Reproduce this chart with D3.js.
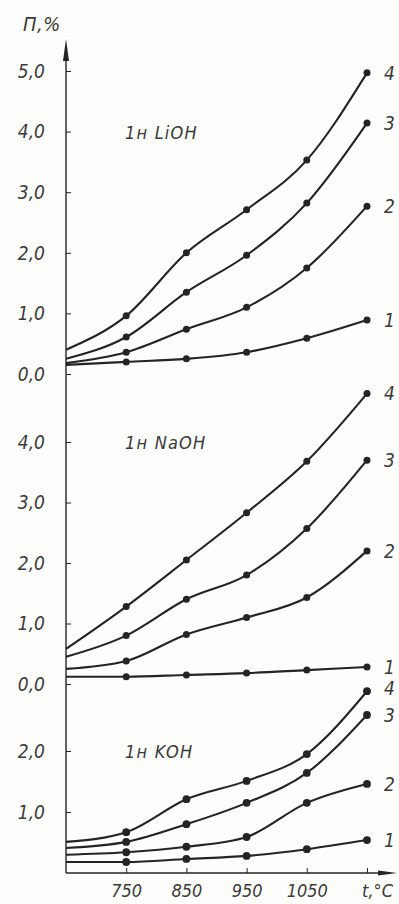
<!DOCTYPE html>
<html>
<head>
<meta charset="utf-8">
<script src="https://cdn.jsdelivr.net/npm/d3@7"></script>
<style>
  body { margin: 0; background: #fdfdfb; }
  svg text { font-family: "DejaVu Sans Condensed", "DejaVu Sans", sans-serif; font-style: italic; fill: #3a3a3a; }
</style>
</head>
<body>
<svg width="399" height="904"></svg>
<script>
// temperatures, deg C (650 = the axis origin, no marker drawn there)
var temps = [650, 750, 850, 950, 1050, 1150];
var xTicks = [750, 850, 950, 1050];
var seriesNames = ["1", "2", "3", "4"];

// 1н LiOH, П %  (series 1..4)
var lioh = [
  [0.15, 0.20, 0.25, 0.36, 0.59, 0.89],
  [0.18, 0.36, 0.74, 1.10, 1.75, 2.77],
  [0.25, 0.61, 1.35, 1.96, 2.82, 4.14],
  [0.40, 0.96, 2.00, 2.71, 3.53, 4.97]
];
// 1н NaOH
var naoh = [
  [0.12, 0.12, 0.15, 0.18, 0.23, 0.28],
  [0.25, 0.38, 0.82, 1.10, 1.43, 2.20],
  [0.45, 0.80, 1.40, 1.80, 2.57, 3.70],
  [0.58, 1.28, 2.05, 2.83, 3.68, 4.80]
];
// 1н KOH
var koh = [
  [0.18, 0.18, 0.23, 0.28, 0.39, 0.54],
  [0.30, 0.34, 0.43, 0.59, 1.15, 1.46],
  [0.41, 0.51, 0.80, 1.15, 1.64, 2.59],
  [0.51, 0.67, 1.21, 1.51, 1.95, 2.98]
];

var liohTicks = [0, 1, 2, 3, 4, 5];
var naohTicks = [0, 1, 2, 3, 4];
var kohTicks = [1, 2];

var svg = d3.select("svg");
var ink = "#242424";

var x = d3.scaleLinear().domain([650, 1150]).range([66, 367]);

var panels = [
  { name: "1н LiOH", data: lioh, ticks: liohTicks, y: d3.scaleLinear().domain([0, 5]).range([374, 71]) },
  { name: "1н NaOH", data: naoh, ticks: naohTicks, y: d3.scaleLinear().domain([0, 4]).range([684, 442]) },
  { name: "1н KOH", data: koh, ticks: kohTicks, y: d3.scaleLinear().domain([0, 2]).range([873, 751]) }
];

var fmt = function(d) { return d3.format(".1f")(d).replace(".", ","); };

// vertical axis with arrow
svg.append("line")
    .attr("x1", x(650)).attr("x2", x(650))
    .attr("y1", 52).attr("y2", 873)
    .attr("stroke", ink).attr("stroke-width", 1.4);
svg.append("path")
    .attr("d", "M" + x(650) + ",39 L" + (x(650) - 3) + ",61 L" + (x(650) + 3) + ",61 Z")
    .attr("fill", ink);
svg.append("text")
    .attr("x", 23).attr("y", 31)
    .attr("font-size", 20)
    .attr("letter-spacing", 0.5)
    .text("П,%");

// horizontal axis with arrow
svg.append("line")
    .attr("x1", x(650)).attr("x2", 390)
    .attr("y1", 873).attr("y2", 873)
    .attr("stroke", ink).attr("stroke-width", 1.4);
svg.append("path")
    .attr("d", "M397,873 L378,870.5 L378,875.5 Z")
    .attr("fill", ink);

var xAxis = svg.append("g")
    .attr("transform", "translate(0,873)")
    .call(d3.axisBottom(x).tickValues(xTicks.concat([1150])).tickSizeInner(-5).tickSizeOuter(0)
      .tickFormat(function(d) { return d === 1150 ? "t,°C" : d; }));
xAxis.select(".domain").remove();
xAxis.selectAll("line").attr("stroke", ink);
xAxis.selectAll("text")
    .attr("font-size", 18)
    .attr("dy", "1.15em")
    .attr("fill", "#3a3a3a")
    .style("font-family", "'DejaVu Sans Condensed', 'DejaVu Sans', sans-serif")
    .style("font-style", "italic");
xAxis.selectAll(".tick").filter(function(d) { return d === 1150; })
    .select("text").attr("dx", 10);

var line = d3.line()
    .x(function(d, i) { return x(temps[i]); })
    .curve(d3.curveMonotoneX);

panels.forEach(function(p, pi) {
  var g = svg.append("g");

  // y ticks
  var ax = g.append("g")
      .attr("transform", "translate(" + x(650) + ",0)")
      .call(d3.axisRight(p.y).tickValues(p.ticks).tickSize(5).tickFormat(""));
  ax.select(".domain").remove();
  ax.selectAll("line").attr("stroke", ink);

  g.selectAll(".ylab")
    .data(p.ticks)
    .enter().append("text")
      .attr("x", 45)
      .attr("y", function(d) { return p.y(d); })
      .attr("dy", "0.36em")
      .attr("text-anchor", "end")
      .attr("font-size", 19)
      .text(fmt);

  g.append("text")
      .attr("x", 125)
      .attr("y", p.y(4) + 7 - (pi === 2 ? p.y(4) - p.y(2) : 0))
      .attr("font-size", 18)
      .attr("letter-spacing", 1.2)
      .text(p.name);

  p.data.forEach(function(vals, si) {
    g.append("path")
        .datum(vals)
        .attr("d", line.y(function(d) { return p.y(d); }))
        .attr("fill", "none")
        .attr("stroke", ink)
        .attr("stroke-width", 2.1);

    g.selectAll(".dot" + si)
      .data(vals.slice(1))
      .enter().append("circle")
        .attr("cx", function(d, i) { return x(temps[i + 1]); })
        .attr("cy", function(d) { return p.y(d); })
        .attr("r", pi === 2 ? 3.9 : 3.5)
        .attr("fill", ink);

    var last = vals[vals.length - 1];
    g.append("text")
        .attr("x", 384)
        .attr("y", p.y(last) + (pi === 2 && si === 3 ? -3 : 0))
        .attr("dy", "0.36em")
        .attr("font-size", 19)
        .text(seriesNames[si]);
  });
});
</script>
</body>
</html>
